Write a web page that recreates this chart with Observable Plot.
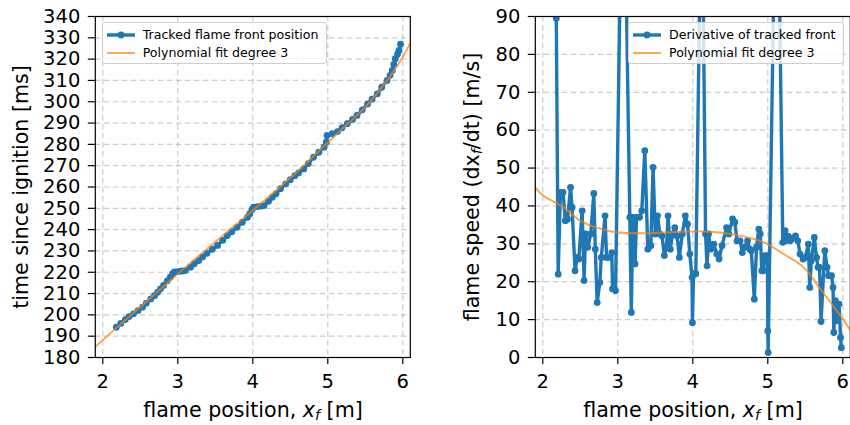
<!DOCTYPE html>
<html>
<head>
<meta charset="utf-8">
<script src="https://cdn.jsdelivr.net/npm/d3@7"></script>
<script src="https://cdn.jsdelivr.net/npm/@observablehq/plot@0.6"></script>
<style>
  html, body { margin: 0; padding: 0; background: #fff; }
  #wrap { position: relative; width: 850px; height: 425px; font-family: "DejaVu Sans", sans-serif; color: #000; overflow: hidden; }
  #wrap svg { position: absolute; top: 0; }
  .lab { position: absolute; font-size: 20.6px; line-height: 20px; white-space: nowrap; }
  .ylab { transform: translate(-50%, -50%) rotate(-90deg); }
  .xlab { transform: translateX(-50%); }
  .sub { font-size: 0.7em; font-style: italic; position: relative; top: 0.22em; }
  .legend { position: absolute; box-sizing: border-box; border: 1px solid #cfcfcf; border-radius: 3px; background: rgba(255,255,255,0.8); font-size: 12.6px; }
  .legend .row { position: absolute; left: 0; height: 16px; line-height: 16px; white-space: nowrap; }
  .legend svg { position: absolute !important; left: 4px; top: 0; }
  .legend span { position: absolute; left: 40px; top: 0; }
</style>
</head>
<body>
<div id="wrap"></div>
<script>
// ---------- data ----------
// Left panel: tracked flame front position (x in m) vs time since ignition (ms)
const posX = [2.18, 2.24, 2.30, 2.35, 2.41, 2.47, 2.53, 2.58, 2.64, 2.69, 2.73, 2.77, 2.81, 2.86, 2.90, 2.93, 2.95,
  2.97, 3.02, 3.06, 3.10, 3.17, 3.22, 3.28, 3.33, 3.39, 3.46, 3.53, 3.60, 3.66, 3.72, 3.79, 3.86, 3.93, 3.96, 3.99, 4.01,
  4.06, 4.11, 4.15, 4.21, 4.26, 4.31, 4.37, 4.44, 4.50, 4.56, 4.61, 4.68, 4.74, 4.81, 4.88, 4.95, 4.98, 4.99,
  5.06, 5.13, 5.19, 5.26, 5.33, 5.39, 5.46, 5.53, 5.59, 5.66, 5.72, 5.79, 5.83, 5.86, 5.88, 5.90, 5.93, 5.95, 5.97];
const posT = [194.2, 196.0, 197.8, 199.2, 200.5, 202.0, 203.6, 205.5, 207.5, 209.0, 210.6, 212.2, 213.8, 216.0, 217.7, 219.2, 220.0,
  220.2, 220.4, 220.6, 220.8, 222.4, 224.0, 225.5, 227.2, 228.9, 230.8, 232.6, 235.0, 237.2, 239.0, 241.1, 243.5, 245.8, 247.5, 249.5, 250.5,
  250.8, 251.0, 251.3, 253.3, 255.2, 256.8, 259.2, 261.5, 263.4, 265.3, 266.6, 268.5, 271.0, 274.0, 276.3, 278.7, 281.0, 284.2,
  285.0, 286.0, 287.8, 289.7, 291.7, 293.6, 296.2, 299.0, 301.2, 303.7, 306.8, 310.0, 312.4, 314.7, 317.5, 320.2, 322.3, 324.1, 327.0];
// Left panel: polynomial fit (degree 3)
const fitPosX = [1.9, 2.2, 2.5, 2.8, 3.1, 3.4, 3.7, 4.0, 4.3, 4.6, 4.9, 5.2, 5.5, 5.8, 6.0, 6.1];
const fitPosT = [185.0, 194.5, 203.7, 213.0, 222.3, 231.3, 240.2, 249.0, 258.0, 267.5, 277.6, 287.5, 297.5, 310.5, 321.0, 327.5];

// Right panel: derivative of tracked front (m/s)
const speedX = [2.18, 2.205, 2.235, 2.27, 2.30, 2.33, 2.37, 2.39, 2.43, 2.46, 2.48, 2.525, 2.55, 2.57, 2.60, 2.64, 2.68, 2.70, 2.725,
  2.76, 2.78, 2.83, 2.85, 2.88, 2.92, 2.93, 2.97, 3.07, 3.16, 3.18, 3.20, 3.23, 3.25, 3.29, 3.32, 3.36, 3.40, 3.44, 3.47,
  3.50, 3.53, 3.56, 3.59, 3.62, 3.65, 3.67, 3.70, 3.73, 3.76, 3.79, 3.82, 3.86, 3.90, 3.93, 3.96, 3.99, 3.995, 4.01, 4.04,
  4.12, 4.17, 4.19, 4.21, 4.24, 4.28, 4.32, 4.35, 4.39, 4.45, 4.48, 4.53, 4.56, 4.59, 4.63, 4.66, 4.69, 4.73, 4.76, 4.78,
  4.82, 4.85, 4.88, 4.90, 4.92, 4.94, 4.96, 4.995, 5.00, 5.005, 5.12, 5.20, 5.23, 5.24, 5.27, 5.30, 5.33, 5.37, 5.40, 5.43,
  5.47, 5.50, 5.54, 5.56, 5.58, 5.62, 5.65, 5.67, 5.69, 5.71, 5.76, 5.79, 5.81, 5.85, 5.87, 5.88, 5.90, 5.92, 5.95, 5.97, 5.98];
const speedV = [89.5, 22.0, 43.6, 43.6, 36.1, 36.5, 44.9, 39.6, 22.9, 26.4, 26.0, 38.7, 20.3, 32.6, 29.1, 32.6, 43.3, 28.6, 14.5,
  19.8, 26.4, 37.4, 26.4, 26.4, 27.7, 18.1, 17.6, 150, 37.0, 11.9, 37.0, 24.7, 37.0, 37.0, 38.7, 54.6, 28.6, 29.5, 50.2,
  32.6, 37.4, 32.6, 32.1, 26.9, 29.1, 37.4, 28.6, 32.6, 34.3, 32.1, 26.4, 32.6, 37.4, 35.2, 27.3, 21.1, 9.2, 22.1, 22.1,
  135, 32.6, 24.2, 32.6, 28.6, 29.9, 27.3, 26.0, 29.5, 34.3, 32.6, 36.6, 35.7, 30.8, 30.8, 27.7, 29.1, 30.8, 28.6, 28.2,
  15.4, 29.1, 33.9, 32.6, 22.9, 22.9, 26.9, 26.9, 7.0, 1.3, 150, 30.4, 33.5, 30.8, 32.0, 30.8, 31.5, 32.1, 30.8, 27.3,
  26.0, 26.4, 29.9, 18.5, 25.5, 31.7, 26.4, 23.8, 23.8, 9.5, 28.2, 23.8, 21.6, 21.6, 18.5, 6.6, 15.0, 9.7, 14.1, 5.3, 2.6];
// Right panel: polynomial fit (degree 3)
const fitSpeedX = [1.9, 2.0, 2.28, 2.5, 2.73, 3.0, 3.4, 3.84, 4.24, 4.59, 4.95, 5.21, 5.48, 5.70, 5.92, 6.1];
const fitSpeedV = [44.9, 42.8, 39.6, 36.1, 34.2, 33.0, 32.8, 33.2, 33.2, 32.3, 30.4, 27.3, 23.8, 18.1, 12.3, 7.3];

// Ticks
const xTicks = [2, 3, 4, 5, 6];
const leftYTicks = [180, 190, 200, 210, 220, 230, 240, 250, 260, 270, 280, 290, 300, 310, 320, 330, 340];
const rightYTicks = [0, 10, 20, 30, 40, 50, 60, 70, 80, 90];

// Texts
const leftYLabel = "time since ignition [ms]";
const legendLeft = ["Tracked flame front position", "Polynomial fit degree 3"];
const legendRight = ["Derivative of tracked front", "Polynomial fit degree 3"];

// ---------- build ----------
const blue = "#1f77b4", orange = "#ff7f0e";
const posData = posX.map((x, i) => ({x, y: posT[i]}));
const fitPosData = fitPosX.map((x, i) => ({x, y: fitPosT[i]}));
const speedData = speedX.map((x, i) => ({x, y: speedV[i]}));
const fitSpeedData = fitSpeedX.map((x, i) => ({x, y: fitSpeedV[i]}));

const gridStyle = {stroke: "#b0b0b0", strokeOpacity: 0.65, strokeWidth: 1.2, strokeDasharray: "5.5,3.5"};
const font = "DejaVu Sans";

function panel({ml, mr, yDomain, yTicks, series, fit}) {
  return Plot.plot({
    width: 425, height: 425,
    marginLeft: ml, marginRight: mr, marginTop: 16, marginBottom: 68,
    style: {fontFamily: font, color: "#000", background: "transparent", overflow: "visible"},
    x: {domain: [1.9, 6.1]},
    y: {domain: yDomain},
    marks: [
      Plot.gridX(xTicks, gridStyle),
      Plot.gridY(yTicks, gridStyle),
      Plot.line(series, {x: "x", y: "y", stroke: blue, strokeWidth: 3.4, clip: true}),
      Plot.dot(series, {x: "x", y: "y", fill: blue, r: 3.4, stroke: null, clip: true}),
      Plot.line(fit, {x: "x", y: "y", stroke: orange, strokeWidth: 1.9, strokeOpacity: 0.72, curve: "catmull-rom", clip: true}),
      Plot.frame({stroke: "#000", strokeWidth: 1.2}),
      Plot.axisX(xTicks, {tickSize: 7, tickPadding: 10, fontSize: 19.5, label: null, strokeWidth: 1.2, tickFormat: d => String(d)}),
      Plot.axisY(yTicks, {tickSize: 7, tickPadding: 8, fontSize: 19.5, label: null, strokeWidth: 1.2, tickFormat: d => String(d)})
    ]
  });
}

const wrap = document.getElementById("wrap");

const left = panel({ml: 94.8, mr: 15.2, yDomain: [180, 340], yTicks: leftYTicks, series: posData, fit: fitPosData});
left.style.left = "0px";
wrap.appendChild(left);

const right = panel({ml: 109.8, mr: 0.2, yDomain: [0, 90], yTicks: rightYTicks, series: speedData, fit: fitSpeedData});
right.style.left = "425px";
wrap.appendChild(right);

// Axis labels (HTML text)
function addLabel(html, cls, x, y) {
  const d = document.createElement("div");
  d.className = "lab " + cls;
  d.style.left = x + "px";
  d.style.top = y + "px";
  d.innerHTML = html;
  wrap.appendChild(d);
}
const xLabelHtml = 'flame position, <i>x</i><span class="sub">f</span> [m]';
addLabel(xLabelHtml, "xlab", 253, 400);
addLabel(xLabelHtml, "xlab", 693, 400);
addLabel(leftYLabel, "ylab", 21, 186.5);
addLabel('flame speed (dx<span class="sub">f</span>/dt) [m/s]', "ylab", 473, 187);

// Legends
function addLegend(x, y, w, labels) {
  const box = document.createElement("div");
  box.className = "legend";
  box.style.left = x + "px";
  box.style.top = y + "px";
  box.style.width = w + "px";
  box.style.height = "42px";
  labels.forEach((t, i) => {
    const row = document.createElement("div");
    row.className = "row";
    row.style.top = (4 + i * 18.4) + "px";
    row.style.width = "100%";
    const s = d3.create("svg").attr("width", 30).attr("height", 16);
    if (i === 0) {
      s.append("line").attr("x1", 0).attr("x2", 28).attr("y1", 8).attr("y2", 8).attr("stroke", blue).attr("stroke-width", 3.4);
      s.append("circle").attr("cx", 14).attr("cy", 8).attr("r", 3.4).attr("fill", blue);
    } else {
      s.append("line").attr("x1", 0).attr("x2", 28).attr("y1", 8).attr("y2", 8).attr("stroke", orange).attr("stroke-width", 1.9).attr("stroke-opacity", 0.72);
    }
    row.appendChild(s.node());
    const sp = document.createElement("span");
    sp.textContent = t;
    row.appendChild(sp);
    box.appendChild(row);
  });
  wrap.appendChild(box);
}
addLegend(101.7, 21.5, 225, legendLeft);
addLegend(628, 21.5, 216, legendRight);
</script>
</body>
</html>
